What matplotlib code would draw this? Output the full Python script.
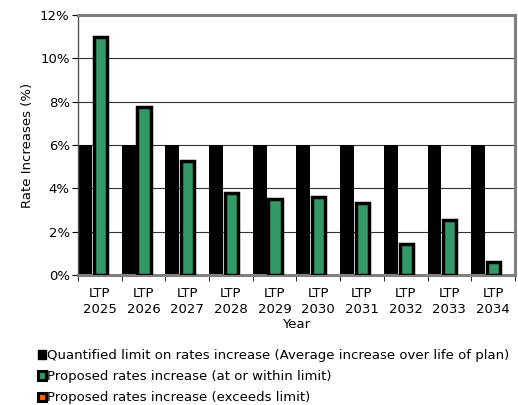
import matplotlib.pyplot as plt
from matplotlib.patches import Patch
import numpy as np

years = ['2025', '2026', '2027', '2028', '2029', '2030', '2031', '2032', '2033', '2034']
limit = [6, 6, 6, 6, 6, 6, 6, 6, 6, 6]
proposed = [11.0, 7.75, 5.25, 3.8, 3.5, 3.6, 3.3, 1.45, 2.55, 0.6]

labels = ['LTP\n' + y for y in years]
x = np.arange(len(years))

plt.rcParams['font.family'] = 'DejaVu Sans'
fs = 9.5
fig = plt.figure(figsize=(5.18, 4.05), dpi=100)
ax = fig.add_axes([0.1506, 0.321, 0.8434, 0.642])

ax.bar(x - 0.34, limit, width=0.32, color='black', zorder=2)
ax.bar(x + 0.01, proposed, width=0.3, color='#339966',
       edgecolor='black', linewidth=2.5, zorder=3)

ax.set_xlim(-0.5, len(years) - 0.5)
ax.set_ylim(0, 12)
ax.set_yticks(range(0, 13, 2))
ax.set_yticklabels([f'{v}%' for v in range(0, 13, 2)], fontsize=fs)
ax.yaxis.grid(True, color='#333333', linewidth=0.8, zorder=0)
ax.set_axisbelow(True)

ax.set_xticks(x)
ax.set_xticklabels(labels, fontsize=fs, linespacing=1.3)
ax.tick_params(axis='x', which='major', length=0, pad=9)
ax.set_xticks(np.arange(-0.5, len(years), 1), minor=True)
ax.tick_params(axis='x', which='minor', length=4, direction='out', color='black')
ax.tick_params(axis='y', length=4, direction='out', pad=2)

for side in ['top', 'right', 'bottom']:
    ax.spines[side].set_color('#808080')
    ax.spines[side].set_linewidth(2.2)
ax.spines['left'].set_color('#555555')
ax.spines['left'].set_linewidth(1)

ax.set_ylabel('Rate Increases (%)', fontsize=fs, labelpad=4)
ax.set_xlabel('Year', fontsize=fs, labelpad=1)

handles = [
    Patch(facecolor='black', edgecolor='black'),
    Patch(facecolor='#339966', edgecolor='black', linewidth=2.2),
    Patch(facecolor='#ff6600', edgecolor='black', linewidth=2.2),
]
names = [
    'Quantified limit on rates increase (Average increase over life of plan)',
    'Proposed rates increase (at or within limit)',
    'Proposed rates increase (exceeds limit)',
]
fig.legend(handles, names, loc='upper left', bbox_to_anchor=(0.073, 0.138),
           frameon=False, fontsize=fs, handlelength=0.6, handleheight=0.6,
           handletextpad=0.12, labelspacing=0.62, borderpad=0, borderaxespad=0)

fig.savefig('out.png', dpi=100)
